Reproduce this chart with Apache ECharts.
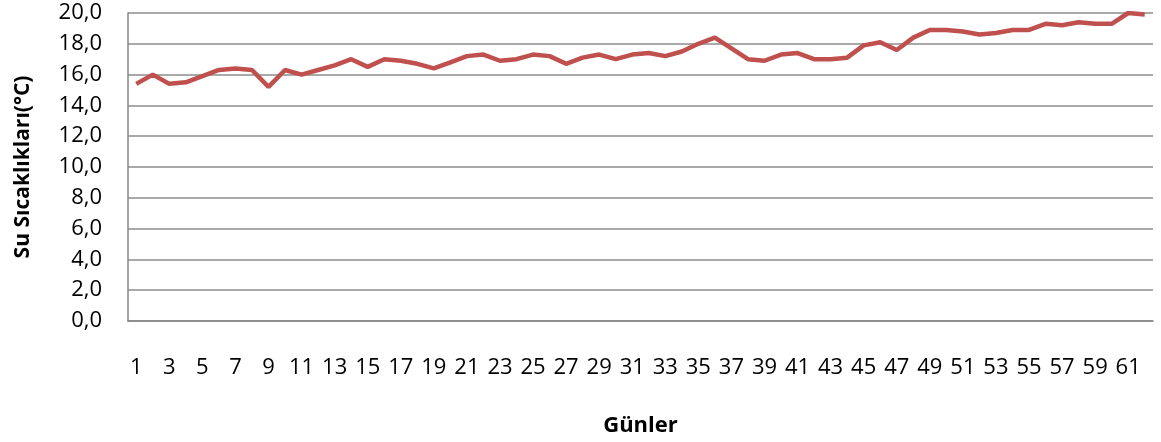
<!DOCTYPE html>
<html>
<head>
<meta charset="utf-8">
<script src="https://cdn.jsdelivr.net/npm/echarts@6/dist/echarts.min.js"></script>
<style>
    html, body { margin: 0; padding: 0; background: #fff; }
    #chart { width: 1161px; height: 442px; }
</style>
</head>
<body>
<div id="chart"></div>
<script>
// günler 1..62
const days = [];
for (let i = 1; i <= 62; i++) days.push(String(i));

// su sıcaklıkları
const waterTemp = [
    15.4, 16.0, 15.4, 15.5, 15.9, 16.3, 16.4, 16.3, 15.2, 16.3,
    16.0, 16.3, 16.6, 17.0, 16.5, 17.0, 16.9, 16.7, 16.4, 16.8,
    17.2, 17.3, 16.9, 17.0, 17.3, 17.2, 16.7, 17.1, 17.3, 17.0,
    17.3, 17.4, 17.2, 17.5, 18.0, 18.4, 17.7, 17.0, 16.9, 17.3,
    17.4, 17.0, 17.0, 17.1, 17.9, 18.1, 17.6, 18.4, 18.9, 18.9,
    18.8, 18.6, 18.7, 18.9, 18.9, 19.3, 19.2, 19.4, 19.3, 19.3,
    20.0, 19.9
];

const yMin = 0, yMax = 20, yStep = 2;

const chart = echarts.init(document.getElementById('chart'));
chart.setOption({
    animation: false,
    grid: {
        left: 128,
        right: 8,
        top: 13,
        bottom: 118
    },
    xAxis: {
        type: 'category',
        data: days,
        boundaryGap: true,
        name: 'Günler',
        nameLocation: 'middle',
        nameGap: 94,
        nameTextStyle: {
            fontFamily: 'Open Sans',
            fontWeight: 'bold',
            fontSize: 22,
            color: '#000'
        },
        axisLine: { lineStyle: { color: '#868686', width: 1.5 } },
        axisTick: { show: false },
        axisLabel: {
            interval: 1,
            margin: 36,
            fontFamily: 'Open Sans',
            fontSize: 22,
            color: '#000'
        }
    },
    yAxis: {
        type: 'value',
        min: yMin,
        max: yMax,
        interval: yStep,
        name: 'Su Sıcaklıkları(°C)',
        nameLocation: 'middle',
        nameGap: 94,
        nameTextStyle: {
            fontFamily: 'Open Sans',
            fontWeight: 'bold',
            fontSize: 21,
            color: '#000'
        },
        axisLine: { show: true, lineStyle: { color: '#868686', width: 1.5 } },
        axisTick: { show: false },
        splitLine: { lineStyle: { color: '#8c8c8c', width: 1.5 } },
        axisLabel: {
            margin: 26,
            fontFamily: 'Open Sans',
            fontSize: 22,
            color: '#000',
            formatter: v => v.toFixed(1).replace('.', ',')
        }
    },
    series: [{
        type: 'line',
        data: waterTemp,
        showSymbol: false,
        lineStyle: { color: '#C0504D', width: 4.5 },
        itemStyle: { color: '#C0504D' }
    }]
});
</script>
</body>
</html>
